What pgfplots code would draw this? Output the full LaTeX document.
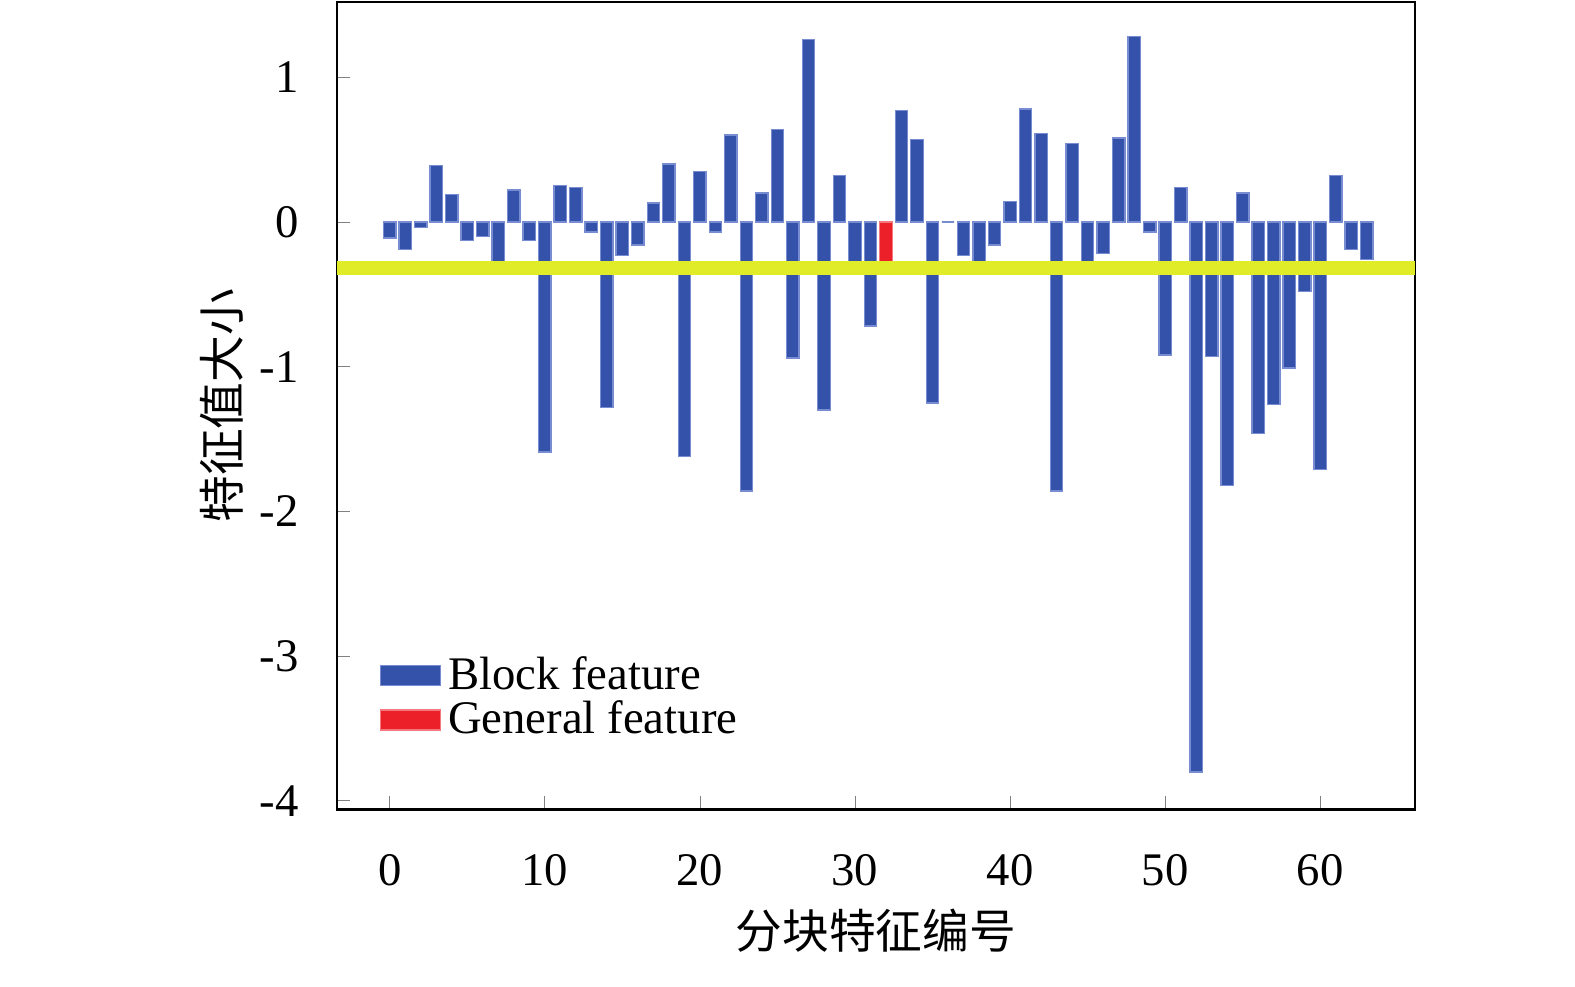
\documentclass[border=0pt]{standalone}
\usepackage{pgfplots}
\pgfplotsset{compat=1.18}
\usepackage{fontspec}
\setmainfont{Liberation Serif}
\newfontfamily\cjk{Noto Sans CJK SC}
\definecolor{barblue}{RGB}{52,82,170}
\definecolor{baredge}{RGB}{120,140,210}
\definecolor{ylw}{RGB}{225,236,40}
\definecolor{rd}{RGB}{236,32,40}
\begin{document}
\begin{tikzpicture}
\begin{axis}[name=ax,
  width=323pt, height=242pt, scale only axis,
  xmin=-3.4, xmax=66.1, ymin=-4.06, ymax=1.52,
  xtick={0,10,...,60}, ytick={-4,-3,...,1},
  xtick pos=left, ytick pos=left, tick align=inside,
  major tick length=4pt,
  ticklabel style={font=\fontsize{14}{16}\selectfont},
  /pgf/number format/assume math mode=true,
  xticklabel style={yshift=-10pt},
  yticklabel style={xshift=-8pt},
  xlabel={\cjk 分块特征编号}, ylabel={\cjk 特征值大小},
  label style={font=\fontsize{14}{16}\selectfont},
  ylabel style={yshift=-2pt},
  axis line style={line width=0.8pt},
  legend style={at={(0.03,0.07)}, anchor=south west, draw=none, fill=none,
    font=\fontsize{14}{16}\selectfont, row sep=-2pt},
  legend cell align=left,
  legend image code/.code={\fill[#1] (0pt,-3pt) rectangle (18pt,3pt);},
]
\addplot[ybar, bar width=0.8, bar shift=0pt, fill=barblue, draw=baredge, line width=0.4pt] coordinates {
(0,-0.11)(1,-0.19)(2,-0.04)(3,0.39)(4,0.19)(5,-0.13)(6,-0.10)(7,-0.28)(8,0.22)(9,-0.13)
(10,-1.59)(11,0.25)(12,0.24)(13,-0.07)(14,-1.28)(15,-0.23)(16,-0.16)(17,0.13)(18,0.40)(19,-1.62)
(20,0.35)(21,-0.07)(22,0.60)(23,-1.86)(24,0.20)(25,0.64)(26,-0.94)(27,1.26)(28,-1.30)(29,0.32)
(30,-0.28)(31,-0.72)(33,0.77)(34,0.57)(35,-1.25)(36,0)(37,-0.23)(38,-0.28)(39,-0.16)
(40,0.14)(41,0.78)(42,0.61)(43,-1.86)(44,0.54)(45,-0.28)(46,-0.22)(47,0.58)(48,1.28)(49,-0.07)
(50,-0.92)(51,0.24)(52,-3.80)(53,-0.93)(54,-1.82)(55,0.20)(56,-1.46)(57,-1.26)(58,-1.01)(59,-0.48)
(60,-1.71)(61,0.32)(62,-0.19)(63,-0.26)};
\addlegendentry{Block feature}
\addplot[ybar, bar width=0.8, bar shift=0pt, fill=rd, draw=rd!60, line width=0.4pt] coordinates {(32,-0.28)};
\addlegendentry{General feature}
\addplot[ylw, line width=4.2pt, forget plot] coordinates {(-3.4,-0.32)(66.1,-0.32)};
\end{axis}
\path[use as bounding box] ([xshift=-101pt,yshift=-53pt]ax.south west) rectangle ([xshift=48pt,yshift=0.6pt]ax.north east);
\end{tikzpicture}
\end{document}
